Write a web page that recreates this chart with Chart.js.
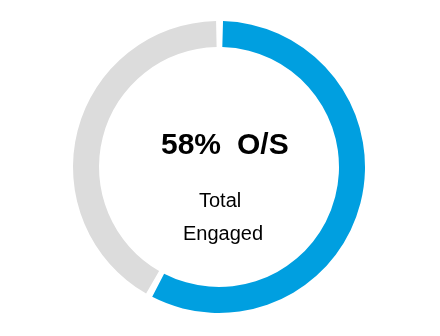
<!DOCTYPE html>
<html>
<head>
<meta charset="utf-8">
<script src="https://cdn.jsdelivr.net/npm/chart.js@4/dist/chart.umd.min.js"></script>
<style>
  html, body { margin: 0; padding: 0; background: #fff; }
  #wrap { width: 440px; height: 336px; position: relative; }
</style>
</head>
<body>
<div id="wrap"><canvas id="donut"></canvas></div>
<script>
// chart data
const segmentLabels = ["O/S", "Other"];
const segmentValues = [58, 42];
const segmentColors = ["#009fe0", "#dcdcdc"];
const headlineValue = "58%";
const headlineTag = "O/S";
const subLines = ["Total", "Engaged"];

// draws the text in the middle of the ring
const centerText = {
    id: "centerText",
    afterDraw(chart) {
        const arc = chart.getDatasetMeta(0).data[0];
        const cx = arc.x, cy = arc.y;
        const ctx = chart.ctx;
        ctx.save();
        ctx.fillStyle = "#000";
        ctx.textBaseline = "alphabetic";
        ctx.textAlign = "left";
        ctx.font = "bold 30px 'Liberation Sans', Arial, sans-serif";
        ctx.fillText(headlineValue, cx - 58, cy - 13);
        ctx.fillText(headlineTag, cx + 18, cy - 13);
        ctx.font = "20px 'Liberation Sans', Arial, sans-serif";
        ctx.fillText(subLines[0], cx - 20, cy + 40);
        ctx.fillText(subLines[1], cx - 36, cy + 73);
        ctx.restore();
    }
};

const ctx = document.getElementById("donut").getContext("2d");
new Chart(ctx, {
    type: "doughnut",
    data: {
        labels: segmentLabels,
        datasets: [{
            data: segmentValues,
            backgroundColor: segmentColors,
            borderWidth: 0,
            spacing: 4
        }]
    },
    options: {
        responsive: true,
        maintainAspectRatio: false,
        animation: false,
        cutout: 118,
        layout: { padding: { top: 21, bottom: 23, left: 2, right: 4 } },
        plugins: {
            legend: { display: false },
            tooltip: { enabled: false }
        }
    },
    plugins: [centerText]
});
</script>
</body>
</html>
